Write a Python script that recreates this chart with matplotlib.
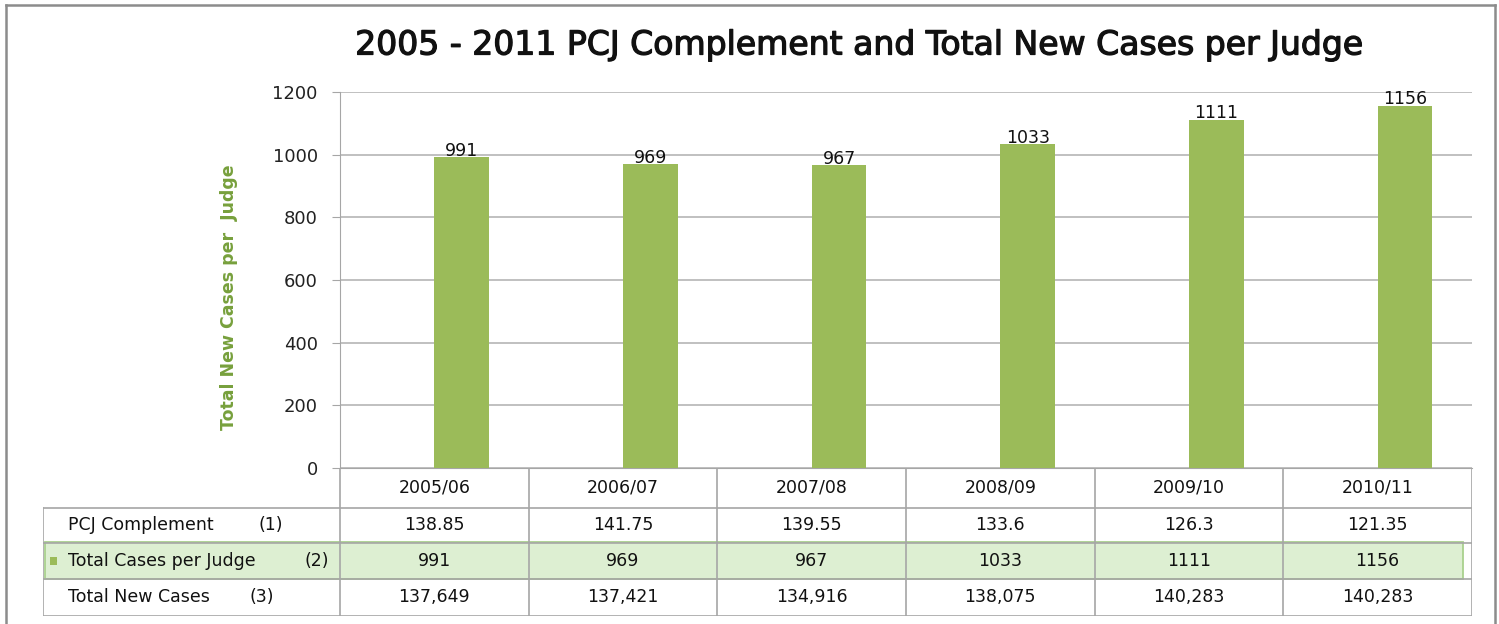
import matplotlib
matplotlib.use("Agg")
import matplotlib.pyplot as plt
from matplotlib.patches import Rectangle
from matplotlib.lines import Line2D
import matplotlib.patheffects as pe

# ---- data ----
years = ["2005/06", "2006/07", "2007/08", "2008/09", "2009/10", "2010/11"]
cases_per_judge = [991, 969, 967, 1033, 1111, 1156]
pcj_complement = ["138.85", "141.75", "139.55", "133.6", "126.3", "121.35"]
total_new_cases = ["137,649", "137,421", "134,916", "138,075", "140,283", "140,283"]
row_labels = ["PCJ Complement", "Total Cases per Judge", "Total New Cases"]
row_nums = ["(1)", "(2)", "(3)"]
yticks = [0, 200, 400, 600, 800, 1000, 1200]
title = "2005 - 2011 PCJ Complement and Total New Cases per Judge"
ylabel = "Total New Cases per  Judge"

W, H = 1499, 624
fig = plt.figure(figsize=(W / 100, H / 100), dpi=100)
plt.rcParams['font.family'] = ['DejaVu Sans']

def fx(px):
    return px / W

def fy(py):
    return 1 - py / H

BAR = "#9bbb59"
GRID = "#b5b5b5"
LINE = "#a6a6a6"

# main axes
L, R, T, B = 340, 1472, 92, 468
ax = fig.add_axes([fx(L), fy(B), fx(R - L), (B - T) / H])
n = len(years)
xs = list(range(n))
bw = 0.29
ax.bar([x + bw / 2 for x in xs], cases_per_judge, width=bw, color=BAR, zorder=3)
for x, v in zip(xs, cases_per_judge):
    ax.text(x + bw / 2, v - 8, str(v), ha="center", va="bottom", fontsize=12.5,
            color="#111111", zorder=4)
ax.set_xlim(-0.5, n - 0.5)
ax.set_ylim(0, 1200)
ax.set_yticks(yticks)
ax.set_yticklabels([str(t) for t in yticks], fontsize=13, color="#222222")
ax.set_xticks([])
ax.yaxis.grid(True, color=GRID, lw=1.2, zorder=0)
for s in ["top", "right"]:
    ax.spines[s].set_visible(False)
ax.spines["left"].set_color(LINE)
ax.spines["bottom"].set_color(LINE)
ax.tick_params(axis="y", direction="out", length=6, color=LINE, pad=10)
ax.set_ylabel(ylabel, fontsize=12.5, fontweight="bold", color="#77a03c")
ax.yaxis.set_label_coords((238 - L) / (R - L), (B - 297) / (B - T))

# table axes (aligned with main x-scale)
TL, TB = 43, 616
unit = (R - L) / n
tab = fig.add_axes([fx(TL), fy(TB), fx(R - TL), (TB - B) / H])
x_left = -0.5 - (L - TL) / unit
tab.set_xlim(x_left, n - 0.5)
rows_px = [468, 508, 543, 579, 616]
rows = [(p - B) / (TB - B) * 4 for p in rows_px]
tab.set_ylim(4, 0)
tab.axis("off")

# highlight row 2
gx0 = x_left + (45 - TL) / unit
gx1 = -0.5 + (1463 - L) / unit
tab.add_patch(Rectangle((gx0, rows[2] - 0.03), gx1 - gx0, rows[3] - rows[2] + 0.02,
                        facecolor="#ddefd2", edgecolor="#a9d18e", lw=1.3, zorder=1))

# grid lines of table
for i in range(n + 1):
    tab.plot([i - 0.5, i - 0.5], [rows[0], rows[4]], color=LINE, lw=1.2, zorder=2)
tab.plot([x_left, x_left], [rows[1], rows[4]], color=LINE, lw=1.2, zorder=2)
tab.plot([x_left, n - 0.5], [rows[1], rows[1]], color=LINE, lw=1.2, zorder=2)
for r in rows[2:]:
    tab.plot([x_left, n - 0.5], [r, r], color=LINE, lw=1.2, zorder=2)

fs = 12.5
for i, y in enumerate(years):
    tab.text(i, (rows[0] + rows[1]) / 2, y, ha="center", va="center", fontsize=fs, color="#111111")
row_vals = [pcj_complement, [str(v) for v in cases_per_judge], total_new_cases]
num_x = [258, 305, 250]
for k in range(3):
    yc = (rows[k + 1] + rows[k + 2]) / 2
    for i, v in enumerate(row_vals[k]):
        tab.text(i, yc, v, ha="center", va="center", fontsize=fs, color="#111111", zorder=3)
    tab.text(x_left + (68 - TL) / unit, yc, row_labels[k], ha="left", va="center",
             fontsize=fs, color="#111111", zorder=3)
    tab.text(x_left + (num_x[k] - TL) / unit, yc, row_nums[k], ha="left", va="center",
             fontsize=fs, color="#111111", zorder=3)
# legend key
yc2 = (rows[2] + rows[3]) / 2
tab.add_patch(Rectangle((x_left + (50 - TL) / unit, yc2 - 0.1), 7 / unit, 0.2,
                        facecolor=BAR, edgecolor="none", zorder=3))

# title
fig.text(fx(858), fy(45), title, ha="center", va="center", fontsize=23.8,
         color="#111111",
         path_effects=[pe.withStroke(linewidth=0.9, foreground="#111111")])

# outer frame (top, left, right)
fc = "#8c8c8c"
fig.add_artist(Line2D([fx(6), fx(1495)], [fy(5), fy(5)], transform=fig.transFigure, color=fc, lw=1.8))
fig.add_artist(Line2D([fx(6), fx(6)], [fy(5), fy(624)], transform=fig.transFigure, color=fc, lw=1.8))
fig.add_artist(Line2D([fx(1495), fx(1495)], [fy(5), fy(624)], transform=fig.transFigure, color=fc, lw=1.8))

fig.savefig("out.png", dpi=100, facecolor="white")
